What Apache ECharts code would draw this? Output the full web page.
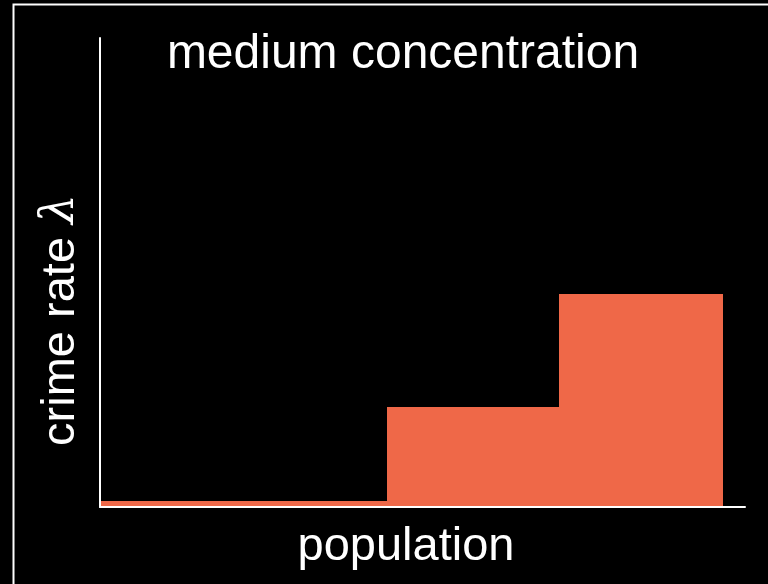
<!DOCTYPE html>
<html><head><meta charset="utf-8">
<script src="https://cdn.jsdelivr.net/npm/echarts@6/dist/echarts.min.js"></script>
<style>html,body{margin:0;padding:0;background:#000;}#c{width:768px;height:584px;}</style>
</head><body><div id="c"></div>
<script>
// population bin edges (relative), crime rate per bin (relative)
const binEdges = [0, 0.445, 0.712, 0.966];
const rates = [0.013, 0.213, 0.454];
const titleText = 'medium concentration';
const xLabel = 'population';
const yLabel = 'crime rate';

const barData = rates.map((r, i) => [binEdges[i], binEdges[i + 1], r]);
const FONT = '"Liberation Sans", Arial, sans-serif';

const chart = echarts.init(document.getElementById('c'));
chart.setOption({
  backgroundColor: '#000',
  animation: false,
  grid: { left: 100, right: 23, top: 38, bottom: 77 },
  xAxis: {
    type: 'value', min: 0, max: 1, z: 10,
    axisLine: { show: true, lineStyle: { color: '#fff', width: 2 } },
    axisTick: { show: false }, axisLabel: { show: false }, splitLine: { show: false }
  },
  yAxis: {
    type: 'value', min: 0, max: 1, z: 10,
    axisLine: { show: true, lineStyle: { color: '#fff', width: 2 } },
    axisTick: { show: false }, axisLabel: { show: false }, splitLine: { show: false }
  },
  series: [{
    type: 'custom',
    z: 1,
    data: barData,
    renderItem: function (params, api) {
      const p0 = api.coord([api.value(0), 0]);
      const p1 = api.coord([api.value(1), api.value(2)]);
      const x0 = Math.round(p0[0]), x1 = Math.round(p1[0]);
      const y0 = Math.round(p0[1]), y1 = Math.round(p1[1]);
      return {
        type: 'rect',
        shape: { x: x0, y: y1, width: x1 - x0, height: y0 - y1 },
        style: { fill: '#EF6848' }
      };
    }
  }],
  graphic: [
    { type: 'rect', silent: true, z: 100,
      shape: { x: 13.5, y: 4.5, width: 800, height: 700 },
      style: { fill: null, stroke: '#fff', lineWidth: 2 } },
    { type: 'text', x: 403, y: 55, z: 100,
      style: { text: titleText, fill: '#fff', font: '48px ' + FONT, align: 'center', verticalAlign: 'middle' } },
    { type: 'text', x: 406, y: 547, z: 100,
      style: { text: xLabel, fill: '#fff', font: '47px ' + FONT, align: 'center', verticalAlign: 'middle' } },
    { type: 'text', x: 61, y: 320, z: 100, rotation: Math.PI / 2,
      style: { text: yLabel + ' {i|λ}', fill: '#fff', font: '47px ' + FONT, align: 'center', verticalAlign: 'middle',
        rich: { i: { fontStyle: 'italic', fontSize: 47, fontFamily: '"DejaVu Serif", serif', fill: '#fff' } } } }
  ]
});
</script></body></html>
